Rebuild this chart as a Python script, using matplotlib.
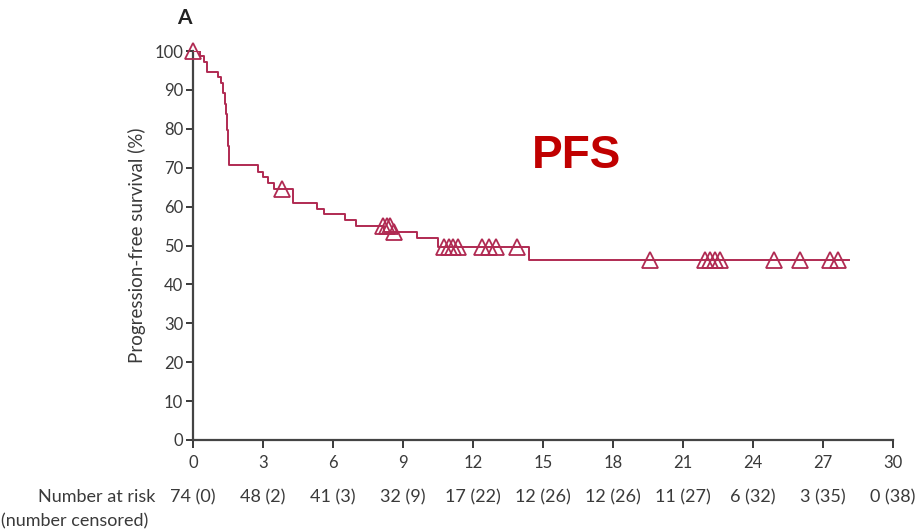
"""Kaplan-Meier style PFS curve with number-at-risk row underneath."""
import matplotlib

matplotlib.use("Agg")
import matplotlib.pyplot as plt  # noqa: E402

# step function (months, % progression-free)
step_t = [0, 0.3, 0.45, 0.6, 1.07, 1.2, 1.3, 1.37, 1.41, 1.45, 1.49, 1.53, 2.8, 3.0, 3.2,
          3.45, 4.3, 5.3, 5.6, 6.5, 7.0, 8.2, 9.6, 10.5, 14.4, 28.1]
step_s = [100, 98.6, 97.3, 94.6, 93.2, 91.9, 89.2, 86.5, 83.8, 79.7, 75.7, 70.7, 68.9, 67.5, 66.1,
          64.6, 61.0, 59.5, 58.0, 56.5, 55.0, 53.4, 51.8, 49.6, 46.4, 46.4]

# censored patients
cens_t = [0, 3.8, 8.15, 8.3, 8.45, 8.6, 10.75, 10.95, 11.15, 11.35, 12.4, 12.7, 13.0, 13.9,
          19.6, 21.95, 22.15, 22.35, 22.6, 24.9, 26.0, 27.3, 27.65]
cens_s = [100, 64.6, 55.0, 55.0, 55.0, 53.4, 49.6, 49.6, 49.6, 49.6, 49.6, 49.6, 49.6, 49.6,
          46.4, 46.4, 46.4, 46.4, 46.4, 46.4, 46.4, 46.4, 46.4]

xticks = list(range(0, 31, 3))
yticks = list(range(0, 101, 10))
at_risk = ["74 (0)", "48 (2)", "41 (3)", "32 (9)", "17 (22)", "12 (26)", "12 (26)",
           "11 (27)", "6 (32)", "3 (35)", "0 (38)"]

RED = "#b02a52"
GREY = "#3a3a3a"

plt.rcParams["font.family"] = ["Lato", "DejaVu Sans"]

fig = plt.figure(figsize=(9.22, 5.30), dpi=100)
ax = fig.add_axes([193 / 922, 1 - 440 / 530, 700 / 922, 389 / 530])

ax.step(step_t, step_s, where="post", c=RED, lw=1.4, zorder=3)
ax.plot(cens_t, cens_s, "^", ms=12, mfc="none", mec=RED, mew=1.3, clip_on=False, zorder=4)

ax.set_xlim(0, 30)
ax.set_ylim(0, 100)
ax.set_xticks(xticks)
ax.set_yticks(yticks)
ax.tick_params(axis="x", length=6, width=1.4, pad=5, labelsize=12, colors=GREY)
ax.tick_params(axis="y", length=5, width=1.4, pad=2, labelsize=12, colors=GREY)
ax.spines[["top", "right"]].set_visible(False)
for s in ("left", "bottom"):
    ax.spines[s].set_linewidth(1.6)
    ax.spines[s].set_color("#444444")

ax.set_ylabel("Progression-free survival (%)", fontsize=13.5, color=GREY, labelpad=6)

# number at risk row
tr = ax.get_xaxis_transform()
for x, lbl in zip(xticks, at_risk):
    ax.text(x, -0.147, lbl, transform=tr, ha="center", va="center", fontsize=13, color=GREY)
ax.text(-1.6, -0.147, "Number at risk", transform=tr, ha="right", va="center",
        fontsize=13, color=GREY)
fig.text(1 / 922, 1 - 521 / 530, "(number censored)", ha="left", va="center",
         fontsize=13, color=GREY)

fig.text(177 / 922, 1 - 18 / 530, "A", ha="left", va="center", fontsize=15,
         fontweight="bold", color="#222222")
fig.text(576 / 922, 1 - 156 / 530, "PFS", ha="center", va="center", fontsize=33,
         fontweight="bold", color="#c00000", family="Liberation Sans")

fig.savefig("out.png", dpi=100)
